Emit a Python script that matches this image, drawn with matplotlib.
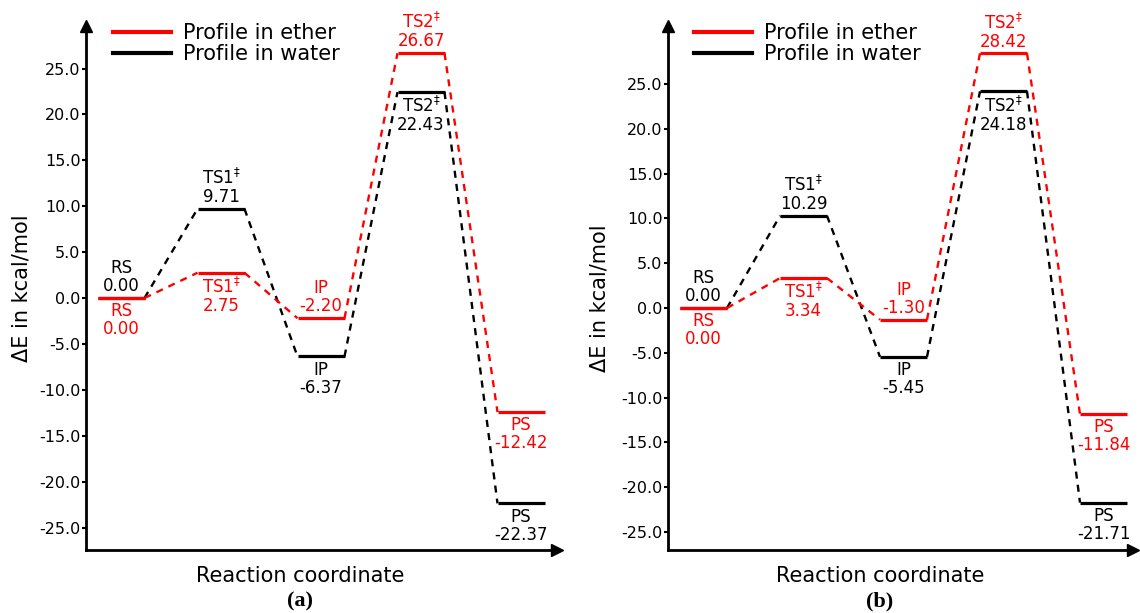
import numpy as np
import matplotlib
matplotlib.use("Agg")
import matplotlib.pyplot as plt
from matplotlib.lines import Line2D

plt.rcParams['axes.unicode_minus'] = False
plt.rcParams['font.family'] = ['DejaVu Sans']

states = ["RS", "TS1$^{‡}$", "IP", "TS2$^{‡}$", "PS"]

# energies in kcal/mol, panel (a) and (b)
ether_a = [0.00, 2.75, -2.20, 26.67, -12.42]
water_a = [0.00, 9.71, -6.37, 22.43, -22.37]
ether_b = [0.00, 3.34, -1.30, 28.42, -11.84]
water_b = [0.00, 10.29, -5.45, 24.18, -21.71]

# label placement: True = above level
ether_above = [False, False, True, True, False]
water_above = [True, True, False, False, False]

yticks = [-25.0, -20.0, -15.0, -10.0, -5.0, 0.0, 5.0, 10.0, 15.0, 20.0, 25.0]

W, H = 1140, 613
fig = plt.figure(figsize=(W / 100, H / 100), dpi=100)


def px_axes(left, right, top, bottom):
    return fig.add_axes([left / W, (H - bottom) / H, (right - left) / W, (bottom - top) / H])


def draw_profile(ax, vals, above, color):
    hw = 0.235
    xs = np.arange(len(vals))
    for i, (x, v) in enumerate(zip(xs, vals)):
        ax.plot([x - hw, x + hw], [v, v], color=color, lw=2.3, solid_capstyle='butt')
        if i < len(vals) - 1:
            ax.plot([x + hw, xs[i + 1] - hw], [v, vals[i + 1]], color=color, lw=1.7,
                    dashes=(3.0, 2.6))
        txt = f"{states[i]}\n{v:.2f}"
        if above[i]:
            ax.annotate(txt, (x, v), xytext=(0, 2), textcoords='offset points',
                        ha='center', va='bottom', color=color, fontsize=12,
                        linespacing=1.0)
        else:
            ax.annotate(txt, (x, v), xytext=(0, -3), textcoords='offset points',
                        ha='center', va='top', color=color, fontsize=12,
                        linespacing=1.0)


def setup(ax, xlim, ylim, tag, lab_x, ylab_xy, xlab_x, tag_x):
    ax.set_xlim(*xlim)
    ax.set_ylim(*ylim)
    for s in ['top', 'right']:
        ax.spines[s].set_visible(False)
    for s in ['left', 'bottom']:
        ax.spines[s].set_linewidth(2)
    ax.set_xticks([])
    ax.set_yticks(yticks)
    ax.set_yticklabels([f"{t:.1f}" for t in yticks], fontsize=11.5)
    ax.tick_params(axis='y', length=3, width=1.5, pad=1)
    ax.plot(0, 1, '^k', ms=9, transform=ax.transAxes, clip_on=False)
    ax.plot(1, 0, '>k', ms=9, transform=ax.transAxes, clip_on=False)
    ax.set_ylabel("ΔE in kcal/mol", fontsize=15)
    ax.yaxis.set_label_coords(*ylab_xy)
    ax.set_xlabel("Reaction coordinate", fontsize=15)
    ax.xaxis.set_label_coords(xlab_x, -0.03)
    handles = [Line2D([], [], color='red', lw=3), Line2D([], [], color='black', lw=3)]
    ax.legend(handles, ["Profile in ether", "Profile in water"], loc='upper left',
              bbox_to_anchor=(lab_x, 1.006), frameon=False, fontsize=15,
              handlelength=2.8, handletextpad=0.55, labelspacing=0.05,
              borderpad=0, borderaxespad=0)
    fig.text(tag_x / W, 1 - 601 / H, tag, ha='center', va='center', fontsize=16,
             fontweight='bold', family='Liberation Serif')


ax1 = px_axes(86, 557, 26, 550)
draw_profile(ax1, water_a, water_above, 'black')
draw_profile(ax1, ether_a, ether_above, 'red')
setup(ax1, (-0.35, 4.36), (-27.45, 29.63), "(a)", 0.057, (-0.115, 0.5), 0.454, 300)

ax2 = px_axes(668, 1133, 26, 550)
draw_profile(ax2, water_b, water_above, 'black')
draw_profile(ax2, ether_b, ether_above, 'red')
setup(ax2, (-0.355, 4.295), (-27.0, 31.47), "(b)", 0.056, (-0.125, 0.48), 0.456, 880)

fig.savefig("out.png", dpi=100)
